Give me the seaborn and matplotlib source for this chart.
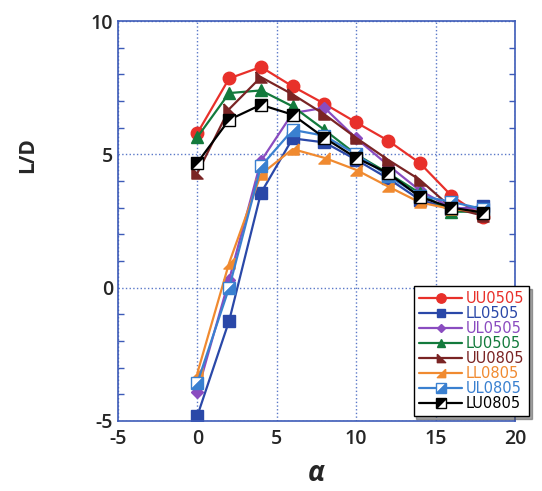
import numpy as np
import matplotlib
matplotlib.use('Agg')
import matplotlib.pyplot as plt
import seaborn as sns
from matplotlib.markers import MarkerStyle
from matplotlib.transforms import Affine2D

# angle of attack
alpha = [0, 2, 4, 6, 8, 10, 12, 14, 16, 18]

# L/D for each configuration
uu0505 = [5.8, 7.85, 8.28, 7.55, 6.9, 6.2, 5.52, 4.68, 3.45, 2.65]
ll0505 = [-4.8, -1.24, 3.55, 5.6, 5.45, 4.8, 4.1, 3.3, 2.95, 3.05]
ul0505 = [-3.9, 0.3, 4.75, 6.55, 6.75, 5.6, 4.6, 3.65, 3.0, 2.95]
lu0505 = [5.65, 7.3, 7.4, 6.8, 5.92, 5.0, 4.3, 3.55, 2.85, 2.85]
uu0805 = [4.3, 6.7, 7.9, 7.25, 6.5, 5.62, 4.8, 4.05, 3.0, 2.7]
ll0805 = [-3.2, 0.93, 4.25, 5.2, 4.87, 4.42, 3.8, 3.2, 2.95, 2.85]
ul0805 = [-3.56, 0.0, 4.55, 5.92, 5.7, 5.0, 4.2, 3.45, 3.22, 2.95]
lu0805 = [4.69, 6.3, 6.86, 6.49, 5.62, 4.87, 4.3, 3.41, 3.0, 2.82]

names = ['UU0505', 'LL0505', 'UL0505', 'LU0505', 'UU0805', 'LL0805', 'UL0805', 'LU0805']
series = [uu0505, ll0505, ul0505, lu0505, uu0805, ll0805, ul0805, lu0805]
colors = ['#e8302a', '#2a48a8', '#8a4cc0', '#137a3c', '#7a2424', '#f08a30', '#3a80d0', '#000000']

# markers
tri_ll = MarkerStyle([(-1, 1), (-1, -1), (1, -1), (-1, 1)])   # brown
tri_lr = MarkerStyle([(1, 1), (1, -1), (-1, -1), (1, 1)])     # orange
# square split on the diagonal, main colour fills the upper-left half
half_sq = MarkerStyle('D', fillstyle='top', transform=Affine2D().rotate_deg(45))

styles = [
    dict(marker='o', mfc=colors[0], mec=colors[0], ms=9),
    dict(marker='s', mfc=colors[1], mec=colors[1], ms=8),
    dict(marker='D', mfc=colors[2], mec=colors[2], ms=6),
    dict(marker='^', mfc=colors[3], mec=colors[3], ms=8.5),
    dict(marker=tri_ll, mfc=colors[4], mec=colors[4], ms=8),
    dict(marker=tri_lr, mfc=colors[5], mec=colors[5], ms=8),
    dict(marker=half_sq, mfc='white', mfcalt=colors[6], mec=colors[6], ms=9),
    dict(marker=half_sq, mfc='black', mfcalt='white', mec='black', ms=9),
]

sns.set_style('white')
plt.rcParams['font.family'] = ['Open Sans', 'DejaVu Sans']
plt.rcParams['axes.unicode_minus'] = False

fig = plt.figure(figsize=(5.42, 4.91), dpi=100)
ax = fig.add_axes([0.2177, 0.1426, 0.7325, 0.8144])

spine_col = '#3d5bb8'
grid_col = '#5a78c8'

for name, vals, col, st in zip(names, series, colors, styles):
    kw = dict(marker=st['marker'], markerfacecolor=st['mfc'], markeredgecolor=st['mec'],
              markersize=st['ms'], markeredgewidth=1.0)
    if 'mfcalt' in st:
        kw['markerfacecoloralt'] = st['mfcalt']
    sns.lineplot(x=alpha, y=vals, color=col, linewidth=1.6, label=name, ax=ax, **kw)

ax.set_xlim(-5, 20)
ax.set_ylim(-5, 10)
ax.set_xticks([-5, 0, 5, 10, 15, 20])
ax.set_yticks([-5, 0, 5, 10])
ax.set_yticks(np.arange(-5, 11, 1), minor=True)

ax.grid(True, which='major', linestyle=':', color=grid_col, linewidth=1.0)
ax.set_axisbelow(True)
for sp in ax.spines.values():
    sp.set_color(spine_col)
    sp.set_linewidth(1.2)

ax.tick_params(axis='y', which='both', direction='in', left=True, right=True,
               color=spine_col, labelsize=14)
ax.tick_params(axis='y', which='major', length=0)
ax.tick_params(axis='y', which='minor', length=4, width=1)
ax.tick_params(axis='x', which='both', length=0, labelsize=14, pad=6)
for lab in ax.get_xticklabels() + ax.get_yticklabels():
    lab.set_fontweight('semibold')

ax.set_xlabel('α', fontsize=20, fontweight='bold', fontstyle='italic')
ax.xaxis.set_label_coords(0.5, -0.095)
ax.set_ylabel('L/D', fontsize=15, fontweight='bold')
ax.yaxis.set_label_coords(-0.2, 0.665)

handles, labels = ax.get_legend_handles_labels()
leg = ax.legend(handles, labels, loc='lower right', bbox_to_anchor=(1.035, 0.012),
                frameon=True, shadow=True, fancybox=False,
                prop={'family': 'DejaVu Sans', 'size': 10.5},
                handlelength=3.0, handletextpad=0.2, labelspacing=0.0,
                borderpad=0.35, borderaxespad=0, markerscale=0.75)
leg.get_frame().set_edgecolor('black')
leg.get_frame().set_linewidth(1.0)
leg.set_zorder(10)
for txt, col in zip(leg.get_texts(), colors):
    txt.set_color(col)

fig.savefig('out.png', dpi=100)
